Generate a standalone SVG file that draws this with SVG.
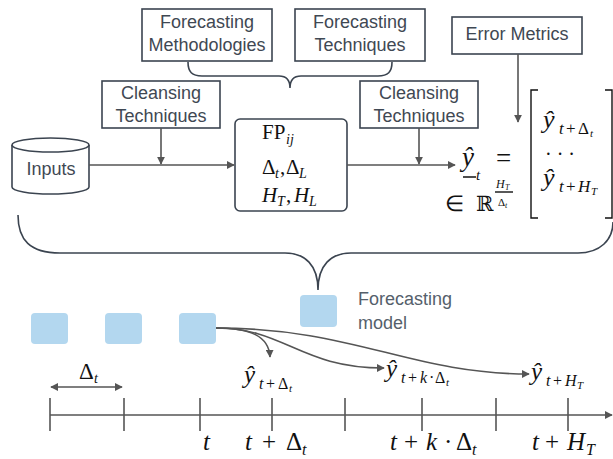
<svg xmlns="http://www.w3.org/2000/svg" width="613" height="459" viewBox="0 0 613 459">
<defs>
<marker id="ah" viewBox="0 0 10 10" refX="9" refY="5" markerWidth="8" markerHeight="8" markerUnits="userSpaceOnUse" orient="auto"><path d="M0,0 L10,5 L0,10 z" fill="#555"/></marker>
<marker id="ahs" viewBox="0 0 10 10" refX="9" refY="5" markerWidth="8" markerHeight="8" markerUnits="userSpaceOnUse" orient="auto-start-reverse"><path d="M0,0 L10,5 L0,10 z" fill="#555"/></marker>
<style>
.box{fill:#fff;stroke:#3b4450;stroke-width:1.6}
.lbl{font-family:"Liberation Sans",Arial,sans-serif;font-size:18px;fill:#3f4853;text-anchor:middle}
.conn{fill:none;stroke:#555;stroke-width:1.6}
.brace{fill:none;stroke:#3b4450;stroke-width:1.6}
.blue{fill:#b3d7ef}
.m{font-family:"Liberation Serif","Times New Roman",serif;fill:#111}
.i{font-style:italic}
.tick{stroke:#555;stroke-width:1.6}
</style>
</defs>

<g id="forecasting-methodologies">
<rect class="box" x="142" y="9" width="130" height="52"/>
<text class="lbl" x="207" y="28">Forecasting</text>
<text class="lbl" x="207" y="51">Methodologies</text>
</g>
<g id="forecasting-techniques">
<rect class="box" x="295" y="9" width="130" height="52"/>
<text class="lbl" x="360" y="28">Forecasting</text>
<text class="lbl" x="360" y="51">Techniques</text>
</g>
<g id="error-metrics">
<rect class="box" x="452" y="17" width="130" height="37"/>
<text class="lbl" x="517" y="40">Error Metrics</text>
</g>
<g id="cleansing-left">
<rect class="box" x="102" y="81" width="118" height="47"/>
<text class="lbl" x="161" y="99">Cleansing</text>
<text class="lbl" x="161" y="122">Techniques</text>
</g>
<g id="cleansing-right">
<rect class="box" x="360" y="81" width="118" height="47"/>
<text class="lbl" x="419" y="99">Cleansing</text>
<text class="lbl" x="419" y="122">Techniques</text>
</g>
<g id="inputs">
<path class="box" d="M12,145 L12,187 A38.5,7 0 0 0 89,187 L89,145"/>
<ellipse class="box" cx="50.5" cy="145" rx="38.5" ry="7"/>
<text class="lbl" x="51" y="175">Inputs</text>
</g>
<g id="fp-box">
<rect class="box" x="235" y="119" width="112" height="92" rx="5"/>
<text class="m" font-size="21" x="262" y="139">FP</text>
<text class="m i" font-size="14" x="286" y="144">ij</text>
<text class="m" font-size="21" y="174"><tspan x="262">Δ</tspan><tspan class="i" font-size="14" x="275" y="178">t</tspan><tspan x="280" y="174">,</tspan><tspan x="286">Δ</tspan><tspan class="i" font-size="14" x="299" y="178">L</tspan></text>
<text class="m" font-size="21" y="202"><tspan class="i" x="262">H</tspan><tspan class="i" font-size="14" x="277" y="206">T</tspan><tspan x="286" y="202">,</tspan><tspan class="i" x="294">H</tspan><tspan class="i" font-size="14" x="309" y="206">L</tspan></text>
</g>
<g id="output-vector">
<text class="m i" font-size="27" x="462" y="166">ŷ</text>
<line x1="463" y1="177" x2="476" y2="177" stroke="#111" stroke-width="1.5"/>
<text class="m i" font-size="15" x="476" y="180">t</text>
<text class="m" font-size="27" x="496" y="167">=</text>
<text class="m" font-size="22" x="445" y="211">∈</text>
<text font-family="DejaVu Serif,DejaVu Sans,serif" font-size="21" x="476" y="211" fill="#111">ℝ</text>
<text class="m i" font-size="12" x="496" y="188">H</text>
<text class="m i" font-size="8" x="505" y="190">T</text>
<line x1="495" y1="192" x2="513" y2="192" stroke="#111" stroke-width="1.4"/>
<text class="m" font-size="11" x="498" y="206">Δ</text>
<text class="m i" font-size="8" x="505" y="208">t</text>
<path d="M538,90 L531,90 L531,218 L538,218" fill="none" stroke="#111" stroke-width="1.4"/>
<path d="M605,90 L612,90 L612,218 L605,218" fill="none" stroke="#111" stroke-width="1.4"/>
<text class="m" y="128"><tspan class="i" font-size="26" x="543">ŷ</tspan><tspan class="i" font-size="17" x="559" y="134">t</tspan><tspan font-size="17" x="566">+</tspan><tspan font-size="17" x="578">Δ</tspan><tspan class="i" font-size="11" x="590" y="137">t</tspan></text>
<text class="m" font-size="20" x="545" y="161">· · ·</text>
<text class="m" y="186"><tspan class="i" font-size="26" x="543">ŷ</tspan><tspan class="i" font-size="17" x="559" y="192">t</tspan><tspan font-size="17" x="566">+</tspan><tspan class="i" font-size="17" x="578">H</tspan><tspan class="i" font-size="11" x="591" y="195">T</tspan></text>
</g>

<g id="connectors">
<path class="conn" d="M89,165 L234,165" marker-end="url(#ah)"/>
<path class="conn" d="M161,128 L161,164" marker-end="url(#ah)"/>
<path class="conn" d="M347,165 L455,165" marker-end="url(#ah)"/>
<path class="conn" d="M419,128 L419,164" marker-end="url(#ah)"/>
<path class="conn" d="M518,54 L518,122" marker-end="url(#ah)"/>
<path class="conn" d="M216,328 C250,328 269,336 270,357" marker-end="url(#ah)"/>
<path class="conn" d="M216,328 C285,328 300,368 384,368" marker-end="url(#ah)"/>
<path class="conn" d="M216,328 C355,328 410,374 529,374" marker-end="url(#ah)"/>
<path class="brace" d="M188,62 C188,72 192,76 202,76 L279,76 C286,76 290,80 290,88 C290,80 294,76 301,76 L378,76 C388,76 392,72 392,62"/>
<path class="brace" d="M18,215 C18,240 30,253 60,253 L285,253 C305,253 318,265 318,290 C318,265 331,253 351,253 L578,253 C600,253 613,240 613,222"/>
</g>

<g id="blocks">
<rect class="blue" x="31" y="313" width="37" height="31" rx="4"/>
<rect class="blue" x="105" y="313" width="37" height="31" rx="4"/>
<rect class="blue" x="179" y="313" width="37" height="31" rx="4"/>
</g>
<g id="forecasting-model">
<rect class="blue" x="300" y="295" width="37" height="32" rx="4"/>
<text class="lbl" style="text-anchor:start;fill:#55606b" x="358" y="305">Forecasting</text>
<text class="lbl" style="text-anchor:start;fill:#55606b" x="358" y="329">model</text>
</g>

<g id="timeline">
<path class="conn" d="M50,415 L612,415" marker-end="url(#ah)"/>
<line class="tick" x1="50" y1="398" x2="50" y2="431"/>
<line class="tick" x1="124" y1="398" x2="124" y2="431"/>
<line class="tick" x1="200" y1="398" x2="200" y2="431"/>
<line class="tick" x1="272" y1="398" x2="272" y2="431"/>
<line class="tick" x1="345" y1="398" x2="345" y2="431"/>
<line class="tick" x1="422" y1="398" x2="422" y2="431"/>
<line class="tick" x1="496" y1="398" x2="496" y2="431"/>
<line class="tick" x1="568" y1="398" x2="568" y2="431"/>
<path class="conn" d="M51,387 L122,387" marker-start="url(#ahs)" marker-end="url(#ah)"/>
<text class="m" y="379"><tspan font-size="23" x="79">Δ</tspan><tspan class="i" font-size="14" x="94" y="383">t</tspan></text>
<text class="m" y="383"><tspan class="i" font-size="25" x="244">ŷ</tspan><tspan class="i" font-size="16" x="259" y="389">t</tspan><tspan font-size="16" x="266">+</tspan><tspan font-size="16" x="278">Δ</tspan><tspan class="i" font-size="11" x="289" y="392">t</tspan></text>
<text class="m" y="377"><tspan class="i" font-size="25" x="386">ŷ</tspan><tspan class="i" font-size="16" x="401" y="383">t</tspan><tspan font-size="16" x="408">+</tspan><tspan class="i" font-size="16" x="420">k</tspan><tspan font-size="16" x="429">·</tspan><tspan font-size="16" x="435">Δ</tspan><tspan class="i" font-size="11" x="446" y="386">t</tspan></text>
<text class="m" y="380"><tspan class="i" font-size="25" x="531">ŷ</tspan><tspan class="i" font-size="16" x="546" y="386">t</tspan><tspan font-size="16" x="553">+</tspan><tspan class="i" font-size="16" x="565">H</tspan><tspan class="i" font-size="11" x="577" y="389">T</tspan></text>
<text class="m i" font-size="25" x="203" y="450">t</text>
<text class="m" font-size="25" y="450"><tspan class="i" x="245">t</tspan><tspan x="262">+</tspan><tspan x="286">Δ</tspan><tspan class="i" font-size="16" x="302" y="455">t</tspan></text>
<text class="m" font-size="25" y="450"><tspan class="i" x="390">t</tspan><tspan x="404">+</tspan><tspan class="i" x="426">k</tspan><tspan x="444">·</tspan><tspan x="456">Δ</tspan><tspan class="i" font-size="16" x="472" y="455">t</tspan></text>
<text class="m" font-size="25" y="450"><tspan class="i" x="532">t</tspan><tspan x="545">+</tspan><tspan class="i" x="567">H</tspan><tspan class="i" font-size="16" x="586" y="455">T</tspan></text>
</g>
</svg>
